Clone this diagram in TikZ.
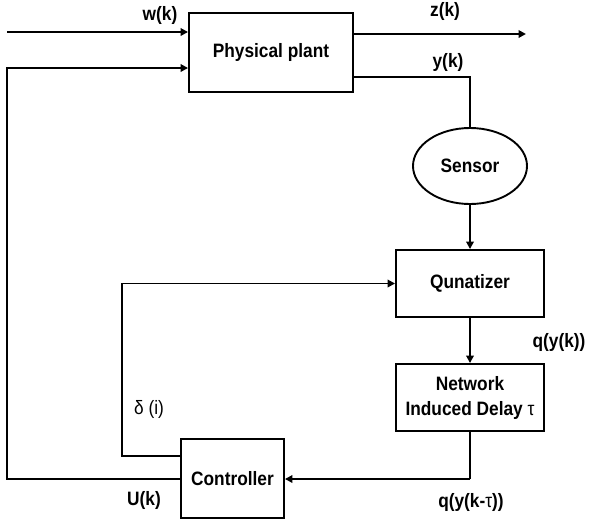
\documentclass[tikz,border=0pt]{standalone}
\usepackage{fontspec}
\setmainfont{Liberation Sans}
\usetikzlibrary{arrows.meta,shapes.geometric}
\newcommand{\tallt}[1]{\scalebox{1}[1.12]{#1}}
\begin{document}
\begin{tikzpicture}[x=1pt,y=-1pt,
  every node/.style={font=\fontsize{17.3}{25}\selectfont\bfseries},
  blk/.style={draw,line width=1.9pt,rectangle,inner sep=0pt,align=center},
  conn/.style={line width=1.9pt},
  arr/.style={line width=1.9pt,-{Triangle[length=7.5pt,width=7.5pt]}},
  lbl/.style={inner sep=0pt},
  lblr/.style={inner sep=0pt,font=\fontsize{17.3}{25}\selectfont}]
\useasboundingbox (0,0) rectangle (589,523);
% blocks
\node[blk,minimum width=164pt,minimum height=79pt] (plant) at (271,52.5) {\tallt{Physical plant}};
\node[blk,ellipse,minimum width=114pt,minimum height=76pt] (sensor) at (470,166) {\tallt{Sensor}};
\node[blk,minimum width=148pt,minimum height=67pt] (quant) at (470,283.5) {\tallt{Qunatizer}};
\node[blk,minimum width=148pt,minimum height=67pt] (net) at (470,397.5) {\tallt{Network}\\\tallt{Induced Delay {\mdseries τ}}};
\node[blk,minimum width=103pt,minimum height=79pt] (ctrl) at (232.5,478.5) {\tallt{Controller}};
% free ends and corners
\coordinate (win) at (7,32);
\coordinate (zout) at (526,34);
\coordinate (ycorner) at (470,77);
\coordinate (ubot) at (7,479);
\coordinate (utop) at (7,68);
\coordinate (dlow) at (122,456);
\coordinate (dhigh) at (122,283.5);
\coordinate (netcorner) at (470,479);
% connectors
\draw[arr] (win) -- (win -| plant.west);
\draw[arr] (plant.east |- zout) -- (zout);
\draw[conn] (plant.east |- ycorner) -- (ycorner) -- (sensor.north);
\draw[arr] (sensor.south) -- (quant.north);
\draw[arr] (quant.south) -- (net.north);
\draw[conn] (net.south) -- (netcorner);
\draw[arr] (netcorner) -- (ctrl.east |- netcorner);
\draw[arr] (ctrl.west |- ubot) -- (ubot) -- (utop) -- (utop -| plant.west);
\draw[arr] (ctrl.west |- dlow) -- (dlow) -- (dhigh) -- (quant.west);
% labels
\node[lbl] (lw) at (160,15) {\tallt{w(k)}};
\node[lbl] (lz) at (445,11) {\tallt{z(k)}};
\node[lbl] (ly) at (448,62) {\tallt{y(k)}};
\node[lbl] (lq) at (559,342) {\tallt{q(y(k))}};
\node[lbl] (lqt) at (471,502) {\tallt{q(y(k-{\mdseries τ}))}};
\node[lblr] (ld) at (149,409) {\tallt{δ (i)}};
\node[lbl] (lu) at (144,500) {\tallt{U(k)}};
\end{tikzpicture}
\end{document}
